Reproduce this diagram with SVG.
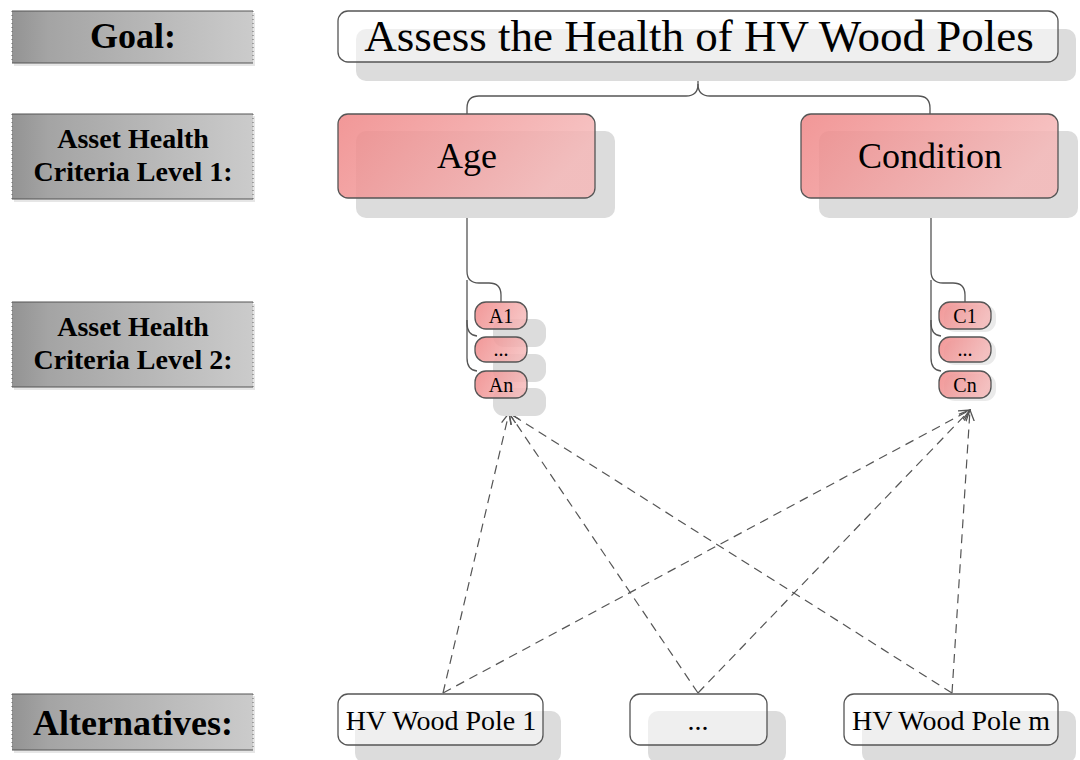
<svg xmlns="http://www.w3.org/2000/svg" width="1080" height="760" viewBox="0 0 1080 760">
<defs>
<linearGradient id="gLab" x1="0" y1="0" x2="1" y2="0">
<stop offset="0" stop-color="#939393"/><stop offset="0.15" stop-color="#a4a4a4"/><stop offset="1" stop-color="#cbcbcb"/>
</linearGradient>
<linearGradient id="gPink" x1="0" y1="0" x2="1" y2="0.3">
<stop offset="0" stop-color="#ef8585"/><stop offset="1" stop-color="#f5b8b8"/>
</linearGradient>
<marker id="arr" viewBox="0 0 12 12" refX="11" refY="6" markerWidth="12" markerHeight="12" markerUnits="userSpaceOnUse" orient="auto">
<path d="M0,1 L11,6 L0,11" fill="none" stroke="#555" stroke-width="1.3"/>
</marker>
</defs>
<style>
.lab{fill:url(#gLab)}
.labsh{fill:#e6e6e6}
.edge{stroke:#555;stroke-width:1.2}
.dot{stroke:#666;stroke-width:1;stroke-dasharray:1 3}
.lt{font-family:"Liberation Serif","Times New Roman",serif;font-weight:bold;fill:#000;text-anchor:middle}
.t{font-family:"Liberation Serif","Times New Roman",serif;fill:#000;text-anchor:middle}
.sh{fill:#dcdcdc}
.wn{fill:#ffffff;fill-opacity:0.55;stroke:#555;stroke-width:1.3}
.pn{fill:url(#gPink);fill-opacity:0.85;stroke:#555;stroke-width:1.3}
.con{fill:none;stroke:#555;stroke-width:1.3}
.dash{fill:none;stroke:#555;stroke-width:1.2;stroke-dasharray:9 6}
</style>

<g id="label-goal">
<rect class="labsh" x="14" y="13" width="241" height="53"/>
<rect class="lab" x="12" y="11" width="241" height="52"/>
<line class="edge" x1="12" y1="11" x2="253" y2="11"/><line class="edge" x1="12" y1="63" x2="253" y2="63"/>
<line class="dot" x1="12" y1="11" x2="12" y2="63"/><line class="dot" x1="253" y1="11" x2="253" y2="63"/>
<text class="lt" x="133" y="48" font-size="36">Goal:</text>
</g>
<g id="label-level1">
<rect class="labsh" x="14" y="116" width="241" height="86"/>
<rect class="lab" x="12" y="114" width="241" height="85"/>
<line class="edge" x1="12" y1="114" x2="253" y2="114"/><line class="edge" x1="12" y1="199" x2="253" y2="199"/>
<line class="dot" x1="12" y1="114" x2="12" y2="199"/><line class="dot" x1="253" y1="114" x2="253" y2="199"/>
<text class="lt" x="133" y="148" font-size="28">Asset Health</text>
<text class="lt" x="133" y="181" font-size="28">Criteria Level 1:</text>
</g>
<g id="label-level2">
<rect class="labsh" x="14" y="304" width="241" height="86"/>
<rect class="lab" x="12" y="302" width="241" height="85"/>
<line class="edge" x1="12" y1="302" x2="253" y2="302"/><line class="edge" x1="12" y1="387" x2="253" y2="387"/>
<line class="dot" x1="12" y1="302" x2="12" y2="387"/><line class="dot" x1="253" y1="302" x2="253" y2="387"/>
<text class="lt" x="133" y="336" font-size="28">Asset Health</text>
<text class="lt" x="133" y="369" font-size="28">Criteria Level 2:</text>
</g>
<g id="label-alternatives">
<rect class="labsh" x="14" y="696" width="241" height="57"/>
<rect class="lab" x="12" y="694" width="241" height="56"/>
<line class="edge" x1="12" y1="694" x2="253" y2="694"/><line class="edge" x1="12" y1="750" x2="253" y2="750"/>
<line class="dot" x1="12" y1="694" x2="12" y2="750"/><line class="dot" x1="253" y1="694" x2="253" y2="750"/>
<text class="lt" x="133" y="735" font-size="36">Alternatives:</text>
</g>

<g id="connectors">
<path class="con" d="M698,62 V84 Q698,96 686,96 H479 Q467,96 467,108 V114"/>
<path class="con" d="M698,84 Q698,96 710,96 H918 Q930,96 930,108 V114"/>
<path class="con" d="M467,198 V271 Q467,283 479,283 H489 Q501,283 501,295 V302"/>
<path class="con" d="M467,280 V323 Q467,335 477,336"/>
<path class="con" d="M467,320 V358 Q467,370 477,371"/>
<path class="con" d="M931,198 V271 Q931,283 943,283 H953 Q965,283 965,295 V302"/>
<path class="con" d="M931,280 V323 Q931,335 941,336"/>
<path class="con" d="M931,320 V358 Q931,370 941,371"/>
<line class="dash" x1="443" y1="693" x2="509" y2="413" marker-end="url(#arr)"/>
<line class="dash" x1="443" y1="693" x2="970" y2="410" marker-end="url(#arr)"/>
<line class="dash" x1="698" y1="693" x2="509" y2="413" marker-end="url(#arr)"/>
<line class="dash" x1="698" y1="693" x2="970" y2="410" marker-end="url(#arr)"/>
<line class="dash" x1="952" y1="693" x2="509" y2="413" marker-end="url(#arr)"/>
<line class="dash" x1="952" y1="693" x2="970" y2="410" marker-end="url(#arr)"/>
</g>

<g id="node-goal">
<rect class="sh" x="356" y="29" width="720" height="52" rx="10"/>
<rect class="wn" x="338" y="11" width="720" height="51" rx="10"/>
<text class="t" x="699" y="51" font-size="45">Assess the Health of HV Wood Poles</text>
</g>
<g id="node-age">
<rect class="sh" x="356" y="131" width="259" height="87" rx="10"/>
<rect class="pn" x="338" y="114" width="257" height="84" rx="10"/>
<text class="t" x="467" y="168" font-size="36">Age</text>
</g>
<g id="node-condition">
<rect class="sh" x="819" y="131" width="259" height="87" rx="10"/>
<rect class="pn" x="801" y="114" width="257" height="84" rx="10"/>
<text class="t" x="930" y="168" font-size="36">Condition</text>
</g>

<g id="node-a1">
<rect class="sh" x="493" y="319" width="53" height="28" rx="11"/>
<rect class="pn" x="475" y="302" width="52" height="27" rx="11"/>
<text class="t" x="501" y="323" font-size="20">A1</text>
</g>
<g id="node-adots">
<rect class="sh" x="493" y="354" width="53" height="28" rx="11"/>
<rect class="pn" x="475" y="337" width="52" height="25" rx="11"/>
<text class="t" x="501" y="356" font-size="20">...</text>
</g>
<g id="node-an">
<rect class="sh" x="493" y="388" width="53" height="28" rx="11"/>
<rect class="pn" x="475" y="371" width="52" height="27" rx="11"/>
<text class="t" x="501" y="392" font-size="20">An</text>
</g>
<g id="node-c1">
<rect class="sh" x="944" y="305" width="52" height="27" rx="11" opacity="0.6"/>
<rect class="pn" x="939" y="302" width="52" height="27" rx="11"/>
<text class="t" x="965" y="323" font-size="20">C1</text>
</g>
<g id="node-cdots">
<rect class="sh" x="944" y="340" width="52" height="25" rx="11" opacity="0.6"/>
<rect class="pn" x="939" y="337" width="52" height="25" rx="11"/>
<text class="t" x="965" y="356" font-size="20">...</text>
</g>
<g id="node-cn">
<rect class="sh" x="944" y="374" width="52" height="27" rx="11" opacity="0.6"/>
<rect class="pn" x="939" y="371" width="52" height="27" rx="11"/>
<text class="t" x="965" y="392" font-size="20">Cn</text>
</g>

<g id="node-pole1">
<rect class="sh" x="355" y="711" width="206" height="52" rx="10"/>
<rect class="wn" x="338" y="694" width="205" height="51" rx="10"/>
<text class="t" x="441" y="730" font-size="28">HV Wood Pole 1</text>
</g>
<g id="node-poledots">
<rect class="sh" x="648" y="711" width="138" height="52" rx="10"/>
<rect class="wn" x="630" y="694" width="137" height="51" rx="10"/>
<text class="t" x="698" y="730" font-size="28">...</text>
</g>
<g id="node-polem">
<rect class="sh" x="862" y="711" width="214" height="52" rx="10"/>
<rect class="wn" x="844" y="694" width="214" height="51" rx="10"/>
<text class="t" x="951" y="730" font-size="28">HV Wood Pole m</text>
</g>
</svg>
